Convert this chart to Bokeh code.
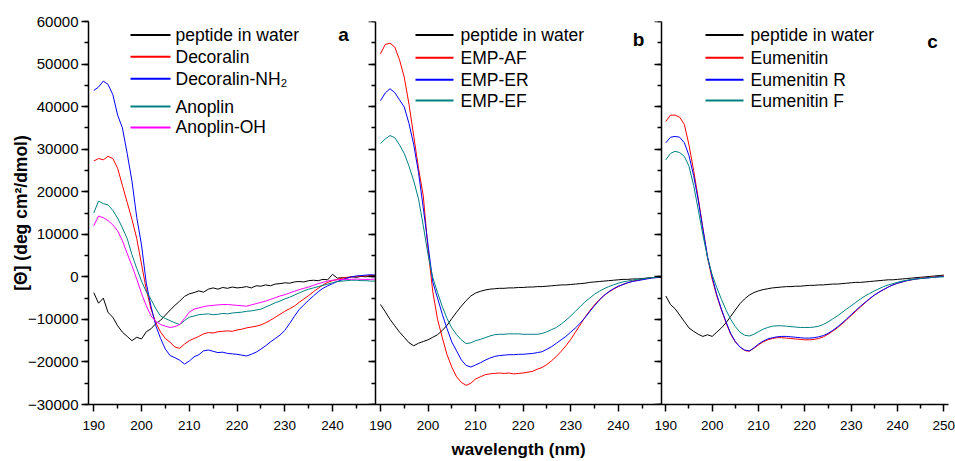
from bokeh.plotting import figure
from bokeh.models import (Range1d, LinearAxis, FixedTicker, SingleIntervalTicker,
                          Label, CustomJSTickFormatter)
from bokeh.embed import file_html
from bokeh.resources import INLINE

# ---------------- data ----------------
wl_ab = list(range(190, 250))   # panels a and b
wl_c = list(range(190, 251))    # panel c

a_water = [-3700, -6200, -5000, -8400, -9500, -11500, -13000, -14000, -15000, -14200,
           -14600, -12900, -12200, -11000, -10200, -9000, -7800, -6700, -5700, -4600,
           -4000, -3700, -3300, -3600, -2900, -2600, -2900, -2500, -2700, -2400,
           -2600, -2500, -2300, -2600, -2100, -2200, -1900, -2100, -1700, -1600,
           -1400, -1500, -1200, -1100, -1200, -900, -800, -900, -600, -700,
           600, -300, -200, -300, 0, -100, 100, 0, 200, 100]
a_decoralin = [27200, 27800, 27500, 28300, 27800, 25500, 21500, 17500, 13500, 9000,
               3000, -3000, -7600, -10800, -13000, -14500, -15400, -16500, -16800, -15800,
               -15000, -14500, -14000, -13400, -13100, -13200, -12900, -12800, -12700, -12800,
               -12500, -12300, -12000, -11800, -11600, -11300, -10800, -10200, -9500, -8800,
               -8100, -7500, -6900, -6000, -5200, -4400, -3500, -2700, -1900, -1300,
               -900, -600, -300, -100, 0, 100, 200, 200, 300, 300]
a_decoralin_nh2 = [43800, 44600, 46000, 45200, 42800, 38000, 35000, 29000, 22500, 14000,
                   7500, -1500, -7000, -11500, -14500, -17000, -18500, -19000, -19600, -20500,
                   -19800, -18800, -18300, -17400, -17200, -17500, -17800, -17700, -18000, -18100,
                   -18200, -18400, -18600, -18200, -17700, -17000, -16200, -15300, -14500, -13700,
                   -12600, -11000, -9300, -7700, -6600, -5500, -4500, -3500, -2700, -2100,
                   -1600, -1100, -700, -300, 0, 200, 300, 400, 500, 400]
a_anoplin = [15000, 17800, 17200, 16900, 15600, 13800, 11500, 9000, 5200, 2000,
             -1000, -3500, -5300, -7500, -9200, -9800, -10300, -10800, -11200, -10300,
             -9500, -9200, -8900, -8800, -8700, -8900, -8800, -8600, -8700, -8500,
             -8400, -8300, -8100, -8000, -7800, -7600, -7100, -6600, -6100, -5700,
             -5200, -4800, -4300, -3800, -3300, -2900, -2600, -2300, -2000, -1700,
             -1400, -1100, -1000, -900, -800, -800, -900, -900, -1000, -1000]
a_anoplin_oh = [12000, 14300, 13900, 13200, 12200, 10800, 8500, 5500, 2600, -500,
                -3900, -6800, -9200, -10500, -11200, -11600, -11900, -11700, -11200, -9800,
                -8300, -7600, -7300, -7000, -6800, -6700, -6600, -6500, -6500, -6600,
                -6700, -6800, -6900, -6600, -6300, -6000, -5700, -5300, -4900, -4500,
                -4200, -3800, -3400, -3000, -2700, -2400, -2000, -1600, -1300, -1000,
                -800, -700, -600, -600, -600, -500, -600, -600, -600, -500]

b_water = [-6500, -8200, -10000, -11500, -13000, -14200, -15500, -16200, -15600, -15200,
           -14800, -14200, -13600, -12600, -11400, -9800, -8300, -6900, -5600, -4500,
           -3800, -3400, -3100, -2900, -2800, -2700, -2700, -2600, -2600, -2500,
           -2500, -2400, -2400, -2300, -2300, -2200, -2100, -2000, -1900, -1900,
           -1800, -1700, -1600, -1500, -1300, -1200, -1100, -1000, -900, -800,
           -700, -600, -600, -500, -500, -400, -300, -200, -100, 0]
b_emp_af = [52400, 54600, 54900, 54000, 51000, 46900, 40500, 33000, 25500, 19000,
            6500, -3500, -10000, -14300, -18300, -21200, -23500, -24800, -25500, -25000,
            -24000, -23500, -23000, -22800, -22700, -22600, -22700, -22600, -22800, -22700,
            -22600, -22400, -22200, -21700, -21300, -20600, -19700, -18700, -17500, -16200,
            -14700, -13000, -11300, -9500, -8000, -6600, -5400, -4400, -3600, -2900,
            -2300, -1800, -1400, -1000, -800, -600, -400, -200, -100, 0]
b_emp_er = [41400, 43200, 44200, 43300, 41600, 39900, 36000, 31000, 24500, 16200,
            7500, -1200, -5000, -8800, -12200, -15300, -17400, -19500, -20800, -21200,
            -20700, -20200, -19600, -19100, -18700, -18500, -18400, -18300, -18300, -18200,
            -18200, -18100, -18000, -17800, -17600, -17000, -16400, -15600, -14800, -14000,
            -13000, -12000, -10900, -9600, -8200, -6800, -5500, -4400, -3500, -2800,
            -2200, -1800, -1400, -1100, -900, -700, -500, -300, -200, -100]
b_emp_ef = [31300, 32400, 33200, 32700, 31000, 29000, 26000, 22500, 18300, 12000,
            5200, -200, -3700, -7000, -9800, -12000, -13600, -14800, -15700, -15500,
            -15000, -14700, -14300, -13900, -13600, -13500, -13500, -13400, -13400, -13400,
            -13500, -13500, -13500, -13500, -13300, -12900, -12400, -11900, -11100, -10200,
            -9200, -8100, -7000, -5900, -5000, -4100, -3400, -2800, -2300, -1900,
            -1500, -1200, -1000, -800, -600, -500, -300, -200, -100, 0]

c_water = [-4500, -6500, -7500, -9000, -10500, -12000, -12800, -13500, -14000, -13600,
           -14000, -13000, -12000, -10800, -9300, -7800, -6300, -5200, -4300, -3700,
           -3300, -3000, -2800, -2600, -2500, -2400, -2300, -2300, -2200, -2200,
           -2100, -2000, -2000, -1900, -1900, -1800, -1700, -1700, -1600, -1500,
           -1400, -1300, -1300, -1200, -1100, -1000, -900, -800, -700, -700,
           -600, -500, -400, -300, -200, -100, 0, 100, 200, 300, 400]
c_eumenitin = [36500, 38000, 38000, 37500, 35800, 31000, 25000, 18500, 11500, 4500,
               -500, -4500, -7800, -10800, -13500, -15300, -16500, -17300, -17500, -16800,
               -16000, -15300, -14800, -14500, -14300, -14300, -14400, -14500, -14600, -14700,
               -14800, -14800, -14700, -14500, -14100, -13500, -12800, -12000, -11100, -10100,
               -9100, -8100, -7100, -6100, -5200, -4300, -3600, -3000, -2400, -1900,
               -1500, -1200, -900, -700, -500, -300, -200, -100, 0, 100, 200]
c_eumenitin_r = [31500, 32800, 33000, 32800, 31500, 28500, 23800, 18000, 11200, 4800,
                 0, -4200, -7600, -10600, -13300, -15200, -16500, -17200, -17400, -16700,
                 -15800, -15100, -14600, -14300, -14100, -14000, -14000, -14100, -14200, -14300,
                 -14400, -14400, -14300, -14100, -13800, -13300, -12600, -11800, -10900, -9900,
                 -8900, -7900, -6900, -6000, -5100, -4300, -3600, -3000, -2400, -1900,
                 -1500, -1200, -900, -700, -500, -400, -300, -200, -100, 0, 100]
c_eumenitin_f = [27500, 29000, 29500, 29200, 28300, 26000, 21500, 15800, 9900, 4500,
                 500, -2500, -5300, -7800, -10000, -11700, -13000, -13700, -13900, -13500,
                 -12900, -12300, -11900, -11600, -11500, -11500, -11600, -11700, -11800, -11900,
                 -11900, -11900, -11800, -11600, -11200, -10600, -9900, -9200, -8400, -7600,
                 -6800, -6000, -5200, -4500, -3900, -3300, -2800, -2300, -1900, -1600,
                 -1300, -1000, -800, -600, -500, -400, -300, -200, -100, 0, 0]

x_major_ab = [190, 200, 210, 220, 230, 240]
x_minor_ab = [195, 205, 215, 225, 235, 245]
x_major_c = [190, 200, 210, 220, 230, 240, 250]
x_minor_c = [195, 205, 215, 225, 235, 245]

labels_a = ["peptide in water", "Decoralin", "Decoralin-NH\u2082", "Anoplin", "Anoplin-OH"]
labels_b = ["peptide in water", "EMP-AF", "EMP-ER", "EMP-EF"]
labels_c = ["peptide in water", "Eumenitin", "Eumenitin R", "Eumenitin F"]
colors_a = ["#000000", "#ff0000", "#0000ff", "#008080", "#ff00ff"]
colors_bc = ["#000000", "#ff0000", "#0000ff", "#008080"]

# ---------------- layout ----------------
FONT = "Liberation Sans"
W, H = 955, 461
BL, BR, BT, BB = 88, 7, 21, 55
FW = W - BL - BR
FH = H - BT - BB
Y0, Y1 = -30000, 60000

# panel: (wavelength at left edge, at right edge, frame px left, frame px right)
panels = {
    "default": (188.9, 249.0, 0.0, 287.0),
    "b": (188.95, 249.1, 287.0, 573.0),
    "c": (189.07, 251.0, 573.0, float(FW)),
}

# legend layout in page pixels: key line x-extent, text x, row centres
legend_layout = {
    "default": ((130, 170), 175, [34.5, 56.5, 78.5, 106.5, 127.5]),
    "b": ((415, 453), 460, [34.5, 57.5, 79.5, 100.5]),
    "c": ((705, 743), 750, [34.5, 57.5, 79.5, 100.5]),
}
# panel letters: (page x centre, page y baseline)
letter_pos = {"default": ("a", 343, 34), "b": ("b", 638, 39.5), "c": ("c", 932, 41)}


def px_per_unit(n):
    s, e, p0, p1 = panels[n]
    return (p1 - p0) / (e - s)


def extended_range(n):
    s, e, p0, p1 = panels[n]
    k = px_per_unit(n)
    return Range1d(s - p0 / k, e + (FW - p1) / k)


rng = {n: extended_range(n) for n in panels}
ka = px_per_unit("default")
ua0 = rng["default"].start


def to_default(n, lam):
    """position of wavelength lam of panel n in the default (panel a) coordinates"""
    s, e, p0, p1 = panels[n]
    return ua0 + (p0 + (lam - s) * px_per_unit(n)) / ka


def page_x(n, x):
    return rng[n].start + (x - BL) / px_per_unit(n)


def page_y(y):
    return Y1 - (y - BT) * (Y1 - Y0) / FH


p = figure(width=W, height=H, x_range=rng["default"], y_range=Range1d(Y0, Y1),
           output_backend="svg", toolbar_location=None,
           x_axis_location=None, y_axis_location=None,
           min_border_left=BL, min_border_right=BR, min_border_top=BT, min_border_bottom=BB)
p.extra_x_ranges = {"b": rng["b"], "c": rng["c"]}
p.outline_line_color = None
p.grid.visible = False
p.background_fill_color = "white"
p.border_fill_color = "white"


def style(ax):
    ax.axis_line_width = 1.5
    ax.major_tick_line_width = 1.5
    ax.minor_tick_line_width = 1.5
    ax.axis_line_color = "black"
    ax.major_tick_line_color = "black"
    ax.minor_tick_line_color = "black"
    ax.major_tick_in = 0
    ax.minor_tick_in = 0
    ax.major_tick_out = 7
    ax.minor_tick_out = 4
    ax.major_label_text_font = FONT
    ax.major_label_text_color = "black"
    ax.axis_label_text_font = FONT
    ax.axis_label_text_font_style = "bold"
    ax.axis_label_text_color = "black"


# left y axis with labels
yax = LinearAxis(ticker=SingleIntervalTicker(interval=10000, num_minor_ticks=2),
                 axis_label="[\u0398] (deg cm\u00b2/dmol)")
style(yax)
yax.major_label_text_font_size = "15px"
yax.axis_label_text_font_size = "17.5px"
yax.major_label_standoff = 3
yax.axis_label_standoff = -6
p.add_layout(yax, "left")

# separator axes for panels b and c (ticks only)
for n in ["b", "c"]:
    sax = LinearAxis(x_range_name=n, fixed_location=panels[n][0],
                     ticker=SingleIntervalTicker(interval=10000, num_minor_ticks=2))
    style(sax)
    sax.major_label_text_color = None
    sax.major_label_standoff = 0
    p.add_layout(sax, "left")

# one x axis across the three panels; tick positions of panels b/c mapped into it
ticks, minors, fmt_info = [], [], []
for n, maj, mnr in [("default", x_major_ab, x_minor_ab), ("b", x_major_ab, x_minor_ab),
                    ("c", x_major_c, x_minor_c)]:
    s, e, p0, p1 = panels[n]
    ticks += [to_default(n, t) for t in maj]
    minors += [to_default(n, t) for t in mnr]
    fmt_info.append([to_default(n, s), to_default(n, e), s, ka / px_per_unit(n)])

xfmt = CustomJSTickFormatter(args=dict(info=fmt_info), code="""
for (const b of info) {
  if (tick >= b[0] && tick <= b[1]) {
    return String(Math.round(b[2] + (tick - b[0]) * b[3]));
  }
}
return "";
""")
xax = LinearAxis(ticker=FixedTicker(ticks=ticks, minor_ticks=minors), formatter=xfmt,
                 axis_label="wavelength (nm)")
style(xax)
xax.major_label_text_font_size = "13.5px"
xax.axis_label_text_font_size = "17px"
xax.major_label_standoff = 9
xax.axis_label_standoff = 7
p.add_layout(xax, "below")

# data lines
panel_series = {
    "default": (wl_ab, [a_water, a_decoralin, a_decoralin_nh2, a_anoplin, a_anoplin_oh],
                colors_a, labels_a),
    "b": (wl_ab, [b_water, b_emp_af, b_emp_er, b_emp_ef], colors_bc, labels_b),
    "c": (wl_c, [c_water, c_eumenitin, c_eumenitin_r, c_eumenitin_f], colors_bc, labels_c),
}

for n, (wl, series, colors, labels) in panel_series.items():
    for ys, col in zip(series, colors):
        p.line(wl, ys, line_color=col, line_width=1, x_range_name=n)

    # legend: one key line (single colour each) and one text per entry
    (kx0, kx1), tx, rows = legend_layout[n]
    for lab, col, r in zip(labels, colors, rows):
        p.line([page_x(n, kx0), page_x(n, kx1)], [page_y(r), page_y(r)],
               line_color=col, line_width=2, x_range_name=n)
        p.add_layout(Label(x=page_x(n, tx), y=page_y(r), text=lab, x_range_name=n,
                           text_font=FONT, text_font_size="17.5px", text_align="left",
                           text_baseline="middle", text_color="black"))

    txt, lx, ly = letter_pos[n]
    p.add_layout(Label(x=page_x(n, lx), y=page_y(ly), text=txt, x_range_name=n,
                       text_font=FONT, text_font_style="bold", text_font_size="19px",
                       text_align="center", text_baseline="alphabetic", text_color="black"))

open("out.html", "w").write(file_html(p, INLINE))
